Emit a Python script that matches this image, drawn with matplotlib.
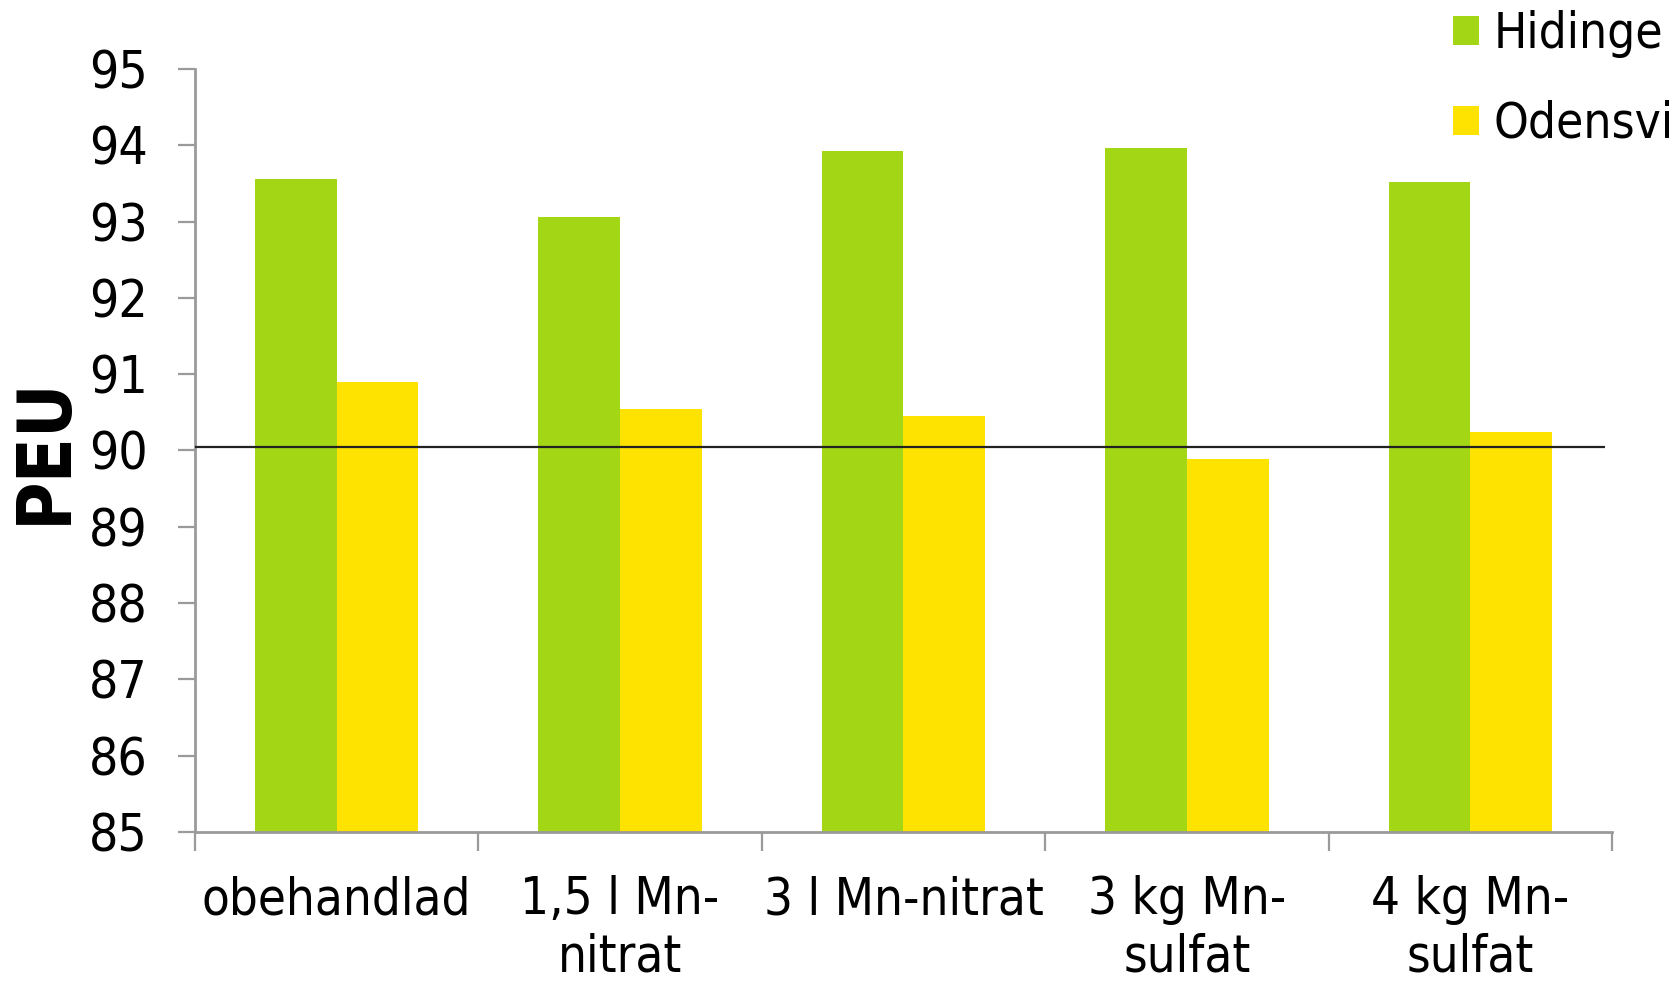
import matplotlib
matplotlib.use("Agg")
import matplotlib.pyplot as plt
import numpy as np

# Treatments and PEU values per site
categories = ["obehandlad", "1,5 l Mn-\nnitrat", "3 l Mn-nitrat", "3 kg Mn-\nsulfat", "4 kg Mn-\nsulfat"]
hidinge = [93.56, 93.06, 93.92, 93.97, 93.52]
odensvi = [90.90, 90.55, 90.45, 89.89, 90.24]
series_names = ["Hidinge", "Odensvi"]
reference_level = 90.05
y_ticks = [85, 86, 87, 88, 89, 90, 91, 92, 93, 94, 95]

GREEN = "#A3D614"
YELLOW = "#FFE300"
AXIS_GRAY = "#9A9A9A"

plt.rcParams["font.family"] = ["DejaVu Sans"]
plt.rcParams["font.stretch"] = "condensed"

fig = plt.figure(figsize=(16.75, 9.81), dpi=100)
ax = fig.add_axes([0.1164, 0.1519, 0.9624 - 0.1164, 0.9297 - 0.1519])

x = np.arange(len(categories))
w = 0.288
b1 = ax.bar(x - w / 2, np.array(hidinge) - 85, w, bottom=85, color=GREEN, label=series_names[0], zorder=2)
b2 = ax.bar(x + w / 2, np.array(odensvi) - 85, w, bottom=85, color=YELLOW, label=series_names[1], zorder=2)

ax.hlines(reference_level, -0.5, 4.475, color="#222222", lw=1.6, zorder=3)

ax.set_xlim(-0.5, 4.5)
ax.set_ylim(85, 95)
ax.set_yticks(y_ticks)
ax.set_yticklabels([str(t) for t in y_ticks], fontsize=37)

ax.set_xticks(x)
ax.set_xticklabels(categories, fontsize=36.5, linespacing=1.2, va="top")
ax.set_xticks(np.arange(-0.5, 5.0, 1.0), minor=True)
ax.tick_params(axis="x", which="major", length=0, pad=31)
ax.tick_params(axis="x", which="minor", length=14, width=1.6, color=AXIS_GRAY, direction="out")
ax.tick_params(axis="y", length=12, width=1.6, color=AXIS_GRAY, direction="out", pad=22)

for side in ("top", "right"):
    ax.spines[side].set_visible(False)
for side in ("left", "bottom"):
    ax.spines[side].set_color(AXIS_GRAY)
    ax.spines[side].set_linewidth(2)

fig.text(0.027, 0.541, "PEU", rotation=90, fontsize=53, fontweight="bold",
         ha="center", va="center")

leg = fig.legend(handles=[b1, b2], labels=series_names, loc="upper left",
                 bbox_to_anchor=(0.8555, 1.01), frameon=False, fontsize=35.5,
                 handlelength=0.53, handleheight=0.53, handletextpad=0.3,
                 labelspacing=0.85, borderaxespad=0)

fig.savefig("out.png", dpi=100)
